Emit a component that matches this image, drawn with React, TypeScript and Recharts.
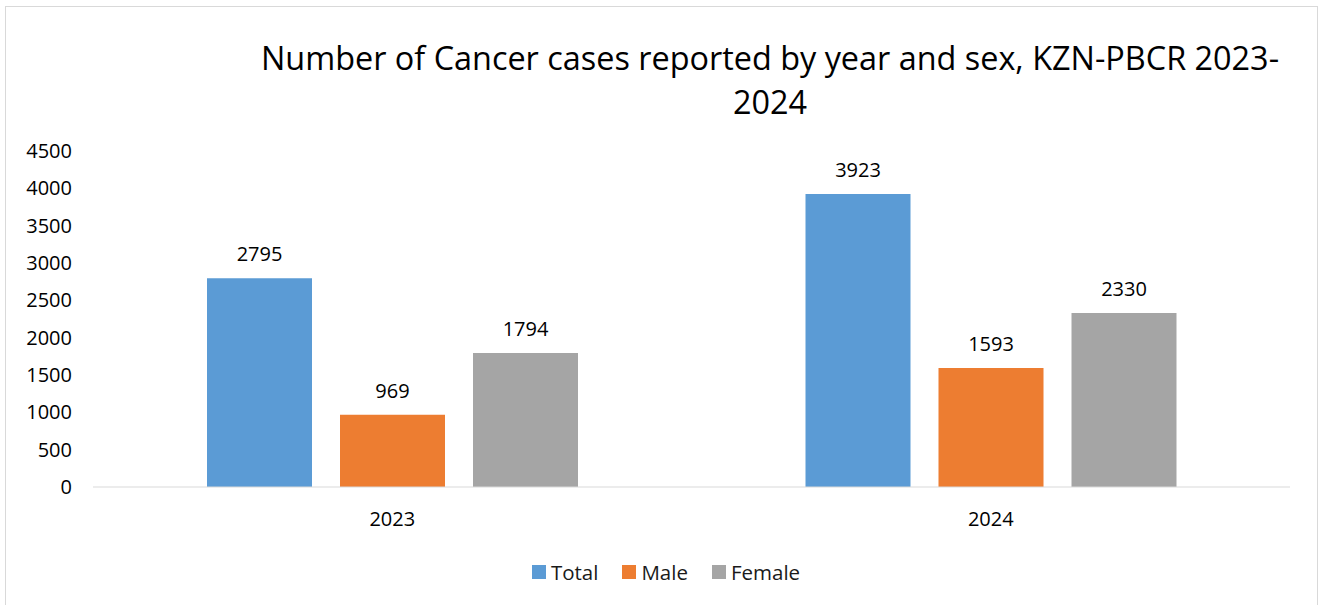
import React from 'react'
import { BarChart, Bar, XAxis, YAxis, Legend, LabelList } from 'recharts'

const years = ['2023', '2024']
const totalCases = [2795, 3923]
const maleCases = [969, 1593]
const femaleCases = [1794, 2330]
const yTicks = [0, 500, 1000, 1500, 2000, 2500, 3000, 3500, 4000, 4500]

const data = years.map((year, i) => ({
  year,
  total: totalCases[i],
  male: maleCases[i],
  female: femaleCases[i],
}))

const FONT = '"Open Sans", sans-serif'

const series = [
  { key: 'total', name: 'Total', color: '#5B9BD5' },
  { key: 'male', name: 'Male', color: '#ED7D31' },
  { key: 'female', name: 'Female', color: '#A5A5A5' },
]

const LegendRow = () => (
  <div
    style={{
      display: 'flex',
      justifyContent: 'center',
      gap: 24,
      paddingLeft: 42,
      fontFamily: FONT,
      fontSize: 20.5,
      color: '#1a1a1a',
    }}
  >
    {series.map((s) => (
      <div key={s.key} style={{ display: 'flex', alignItems: 'center' }}>
        <span style={{ width: 14, height: 14, background: s.color, marginRight: 5 }} />
        <span>{s.name}</span>
      </div>
    ))}
  </div>
)

export default function App() {
  return (
    <div style={{ position: 'absolute', left: 0, top: 0, width: 1325, height: 605, background: '#fff', overflow: 'hidden' }}>
      <div style={{ position: 'absolute', left: 5, top: 6, width: 1311, height: 620, border: '1px solid #d9d9d9' }} />
      <div
        style={{
          position: 'absolute',
          left: 210,
          width: 1120,
          top: 35,
          textAlign: 'center',
          fontFamily: FONT,
          fontSize: 32.4,
          lineHeight: '44px',
          color: '#000',
        }}
      >
        Number of Cancer cases reported by year and sex, KZN-PBCR 2023-
        <br />
        2024
      </div>
      <div style={{ position: 'absolute', left: 0, top: 0 }}>
        <BarChart
          width={1325}
          height={605}
          data={data}
          margin={{ top: 151, right: 35, left: 0, bottom: 21 }}
          barSize={105}
          barGap={28}
        >
          <XAxis
            dataKey="year"
            axisLine={{ stroke: '#d9d9d9' }}
            tickLine={false}
            tickMargin={19}
            height={71}
            tick={{ fontFamily: FONT, fontSize: 20, fill: '#000' }}
          />
          <YAxis
            domain={[0, 4500]}
            ticks={yTicks}
            width={93}
            axisLine={false}
            tickLine={false}
            tickMargin={15}
            tick={{ fontFamily: FONT, fontSize: 20, fill: '#000' }}
          />
          <Legend verticalAlign="bottom" height={26} content={() => <LegendRow />} />
          {series.map((s) => (
            <Bar key={s.key} dataKey={s.key} name={s.name} fill={s.color} isAnimationActive={false}>
              <LabelList
                dataKey={s.key}
                position="top"
                offset={17}
                style={{ fontFamily: FONT, fontSize: 20, fill: '#000' }}
              />
            </Bar>
          ))}
        </BarChart>
      </div>
    </div>
  )
}
